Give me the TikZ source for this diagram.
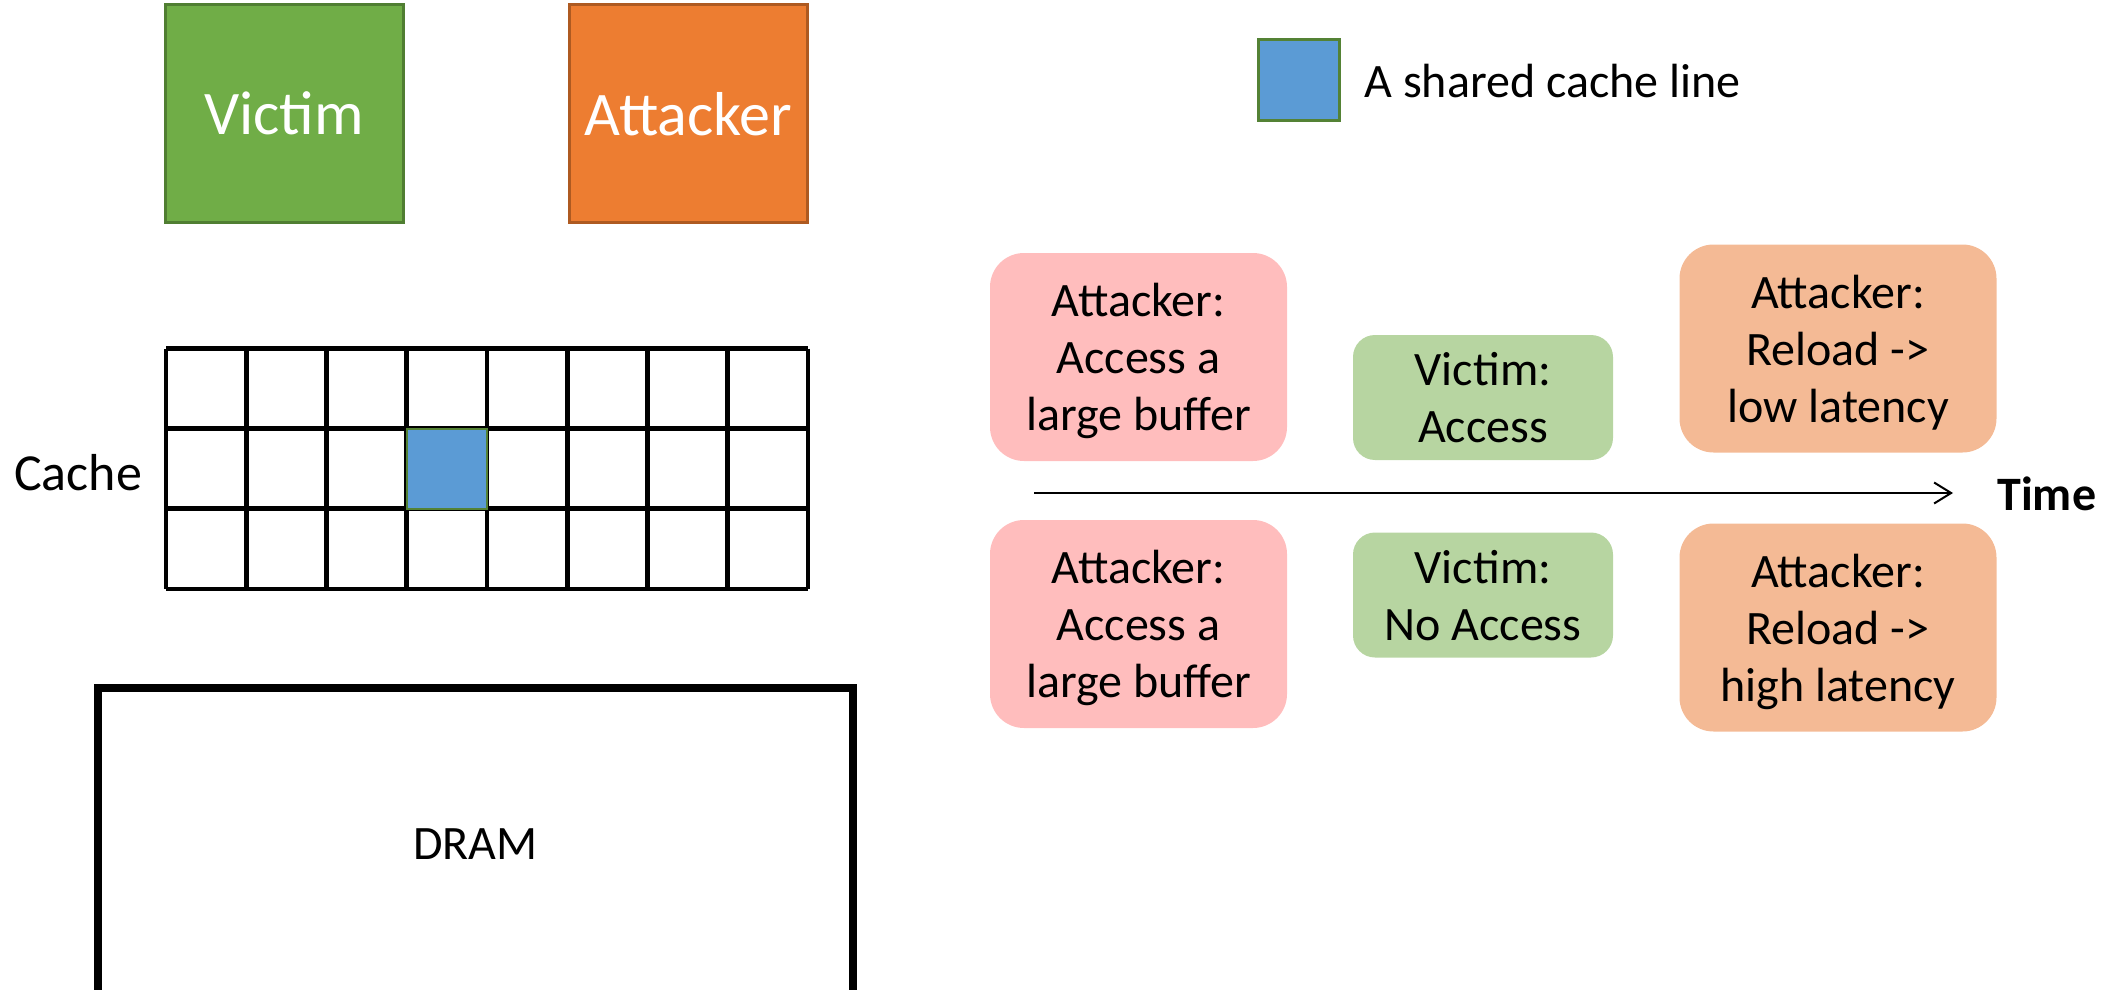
\documentclass[tikz,border=0pt]{standalone}
\usepackage{fontspec}
\setmainfont{Carlito}
\usetikzlibrary{arrows.meta}

\definecolor{victimgreen}{HTML}{70AD47}
\definecolor{victimedge}{HTML}{507E32}
\definecolor{attackorange}{HTML}{ED7D31}
\definecolor{attackedge}{HTML}{AE5A21}
\definecolor{lineblue}{HTML}{5B9BD5}
\definecolor{lineedge}{HTML}{548235}
\definecolor{pinkstep}{HTML}{FFBDBD}
\definecolor{greenstep}{HTML}{B7D5A1}
\definecolor{orangestep}{HTML}{F4BA95}

\begin{document}
\begin{tikzpicture}[x=0.5pt, y=-0.5pt,
    party/.style={draw, line width=1.5pt, text=white, minimum width=119pt,
        minimum height=108.5pt, text depth=0pt, font=\fontsize{31}{37}\selectfont},
    label/.style={inner sep=0pt, font=\fontsize{24}{28.5}\selectfont},
    stepbox/.style={rounded corners=17pt, align=center, inner sep=0pt, text depth=0pt,
        minimum width=148.5pt, minimum height=104pt, font=\fontsize{24}{28.5}\selectfont},
    victimbox/.style={stepbox, fill=greenstep, rounded corners=11pt,
        minimum width=130pt, minimum height=62.5pt},
    sharedline/.style={fill=lineblue, draw=lineedge, line width=1.5pt}]
    \useasboundingbox (0,0) rectangle (2121,990);

    % the two processes
    \node[party, fill=victimgreen, draw=victimedge] (victim) at (284,113.5) {Victim};
    \node[party, fill=attackorange, draw=attackedge] (attacker) at (688.5,113.5) {Attacker};

    % cache: 3 sets x 8 ways
    \foreach \i in {0,...,8}
        \draw[line width=2.4pt] (166+\i*80.25,348.5) -- ++(0,240.5);
    \foreach \j in {0,...,3}
        \draw[line width=2.4pt] (166,348.5+\j*80.17) -- ++(642,0);
    \draw[sharedline, line width=1.2pt] (406.75,428.7) rectangle ++(80.25,80.17);
    \node[label, font=\fontsize{26}{31}\selectfont] (cache) at (78,473) {Cache};

    % main memory, runs off the bottom
    \node[draw, line width=4pt, minimum width=377.5pt, minimum height=156pt,
        label] (dram) at (475.5,844) {DRAM};

    % legend
    \node[sharedline, minimum width=40.5pt, minimum height=40.5pt] (legend) at (1298.5,80.5) {};
    \node[label, anchor=west] (legendtext) at (1364,81) {A shared cache line};

    % time line
    \coordinate (tstart) at (1034,493);
    \coordinate (tend) at (1953,493);
    \draw[line width=1pt, -{Straight Barb[length=8.5pt,width=10.5pt,line width=1pt]}] (tstart) -- (tend);
    \node[label, anchor=west, font=\fontsize{24}{28.5}\selectfont\bfseries] (time) at (1997,494) {Time};

    % case 1: victim touches the line
    \node[stepbox, fill=pinkstep] (prime1) at (1138.5,357) {Attacker:\\Access a\\large buffer};
    \node[victimbox] (vict1) at (1483,397.5) {Victim:\\Access};
    \node[stepbox, fill=orangestep, minimum width=158.5pt] (probe1) at (1838,348.5) {Attacker:\\Reload ->\\low latency};

    % case 2: victim stays away
    \node[stepbox, fill=pinkstep] (prime2) at (1138.5,624) {Attacker:\\Access a\\large buffer};
    \node[victimbox] (vict2) at (1483,595) {Victim:\\No Access};
    \node[stepbox, fill=orangestep, minimum width=158.5pt] (probe2) at (1838,627.5) {Attacker:\\Reload ->\\high latency};
\end{tikzpicture}
\end{document}
